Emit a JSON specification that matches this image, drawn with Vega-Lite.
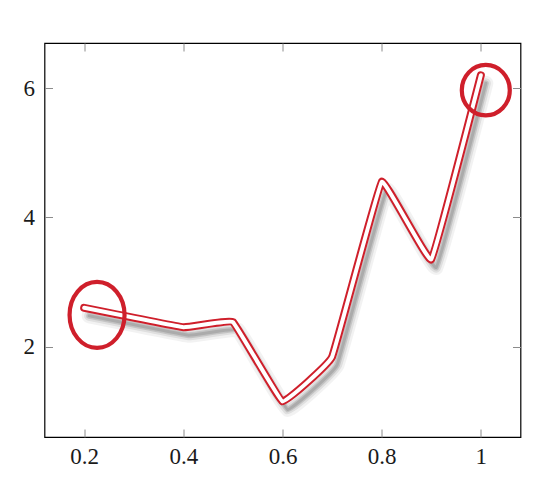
{
  "$schema": "https://vega.github.io/schema/vega-lite/v6.json",
  "width": 476,
  "height": 394,
  "autosize": {"type": "none"},
  "padding": {"left": 44.5, "top": 43, "right": 19.5, "bottom": 46},
  "background": "white",
  "config": {
    "view": {"stroke": "#000000", "strokeWidth": 1.2},
    "axis": {
      "labelFont": "Liberation Serif",
      "labelFontSize": 23,
      "labelColor": "#1a1a1a",
      "grid": false,
      "domain": false,
      "tickColor": "#8c8c8c",
      "tickWidth": 1,
      "tickSize": 8,
      "title": null
    }
  },
  "datasets": {
    "line": [
      {"x": 0.2, "y": 2.6},
      {"x": 0.4, "y": 2.3},
      {"x": 0.5, "y": 2.38},
      {"x": 0.6, "y": 1.15},
      {"x": 0.7, "y": 1.84},
      {"x": 0.8, "y": 4.55},
      {"x": 0.9, "y": 3.35},
      {"x": 1.0, "y": 6.2}
    ],
    "circles": [
      {"x": 0.226, "y": 2.49, "which": "start"},
      {"x": 1.01, "y": 5.97, "which": "end"}
    ]
  },
  "layer": [
    {
      "data": {"name": "line"},
      "mark": {"type": "line", "interpolate": "cardinal", "tension": 0.8, "stroke": "#000000", "strokeWidth": 15, "opacity": 0.05, "xOffset": 5, "yOffset": 8, "strokeJoin": "round", "strokeCap": "round"},
      "encoding": {
        "x": {"field": "x", "type": "quantitative", "scale": {"domain": [0.12, 1.08], "nice": false, "zero": false},
          "axis": {"values": [0.2, 0.4, 0.6, 0.8, 1], "ticks": false, "labelPadding": 8, "labelExpr": "datum.value == 1 ? '1' : format(datum.value, '.1f')"}},
        "y": {"field": "y", "type": "quantitative", "scale": {"domain": [0.6, 6.7], "nice": false, "zero": false},
          "axis": {"values": [2, 4, 6], "ticks": false, "labelPadding": 10, "format": "d"}}
      }
    },
    {
      "data": {"name": "line"},
      "mark": {"type": "line", "interpolate": "cardinal", "tension": 0.8, "stroke": "#000000", "strokeWidth": 10, "opacity": 0.08, "xOffset": 5, "yOffset": 8, "strokeJoin": "round", "strokeCap": "round"},
      "encoding": {
        "x": {"field": "x", "type": "quantitative", "axis": {"orient": "top", "offset": -394, "values": [0.2, 0.4, 0.6, 0.8, 1], "labels": false}},
        "y": {"field": "y", "type": "quantitative", "axis": {"orient": "right", "offset": -476, "values": [2, 4, 6], "labels": false}}
      }
    },
    {
      "data": {"name": "line"},
      "mark": {"type": "line", "interpolate": "cardinal", "tension": 0.8, "stroke": "#000000", "strokeWidth": 6, "opacity": 0.12, "xOffset": 5, "yOffset": 8, "strokeJoin": "round", "strokeCap": "round"},
      "encoding": {
        "x": {"field": "x", "type": "quantitative", "axis": {"orient": "bottom", "offset": -394, "values": [0.2, 0.4, 0.6, 0.8, 1], "labels": false}},
        "y": {"field": "y", "type": "quantitative", "axis": {"orient": "left", "offset": -476, "values": [2, 4, 6], "labels": false}}
      }
    },
    {
      "data": {"name": "line"},
      "mark": {"type": "line", "interpolate": "cardinal", "tension": 0.8, "stroke": "#000000", "strokeWidth": 3, "opacity": 0.12, "xOffset": 5, "yOffset": 8, "strokeJoin": "round", "strokeCap": "round"},
      "encoding": {
        "x": {"field": "x", "type": "quantitative", "axis": null},
        "y": {"field": "y", "type": "quantitative", "axis": null}
      }
    },
    {
      "data": {"name": "line"},
      "mark": {"type": "line", "interpolate": "cardinal", "tension": 0.8, "stroke": "#cf1f2b", "strokeWidth": 8, "strokeJoin": "round", "strokeCap": "round"},
      "encoding": {
        "x": {"field": "x", "type": "quantitative", "axis": null},
        "y": {"field": "y", "type": "quantitative", "axis": null}
      }
    },
    {
      "data": {"name": "line"},
      "mark": {"type": "line", "interpolate": "cardinal", "tension": 0.8, "stroke": "#ffffff", "strokeWidth": 4, "strokeJoin": "round", "strokeCap": "round"},
      "encoding": {
        "x": {"field": "x", "type": "quantitative", "axis": null},
        "y": {"field": "y", "type": "quantitative", "axis": null}
      }
    },
    {
      "data": {"name": "circles"},
      "mark": {"type": "point", "filled": false, "stroke": "#cf1f2b", "strokeWidth": 4.2, "opacity": 1},
      "encoding": {
        "x": {"field": "x", "type": "quantitative", "axis": null},
        "y": {"field": "y", "type": "quantitative", "axis": null},
        "size": {"field": "which", "type": "nominal", "scale": {"domain": ["start", "end"], "range": [3025, 2304]}, "legend": null},
        "shape": {"field": "which", "type": "nominal", "scale": {"domain": ["start", "end"], "range": ["M1,0A1,1.2,0,1,1,-1,0A1,1.2,0,1,1,1,0Z", "M1,0A1,1.05,0,1,1,-1,0A1,1.05,0,1,1,1,0Z"]}, "legend": null}
      }
    }
  ],
  "resolve": {"axis": {"x": "independent", "y": "independent"}}
}
